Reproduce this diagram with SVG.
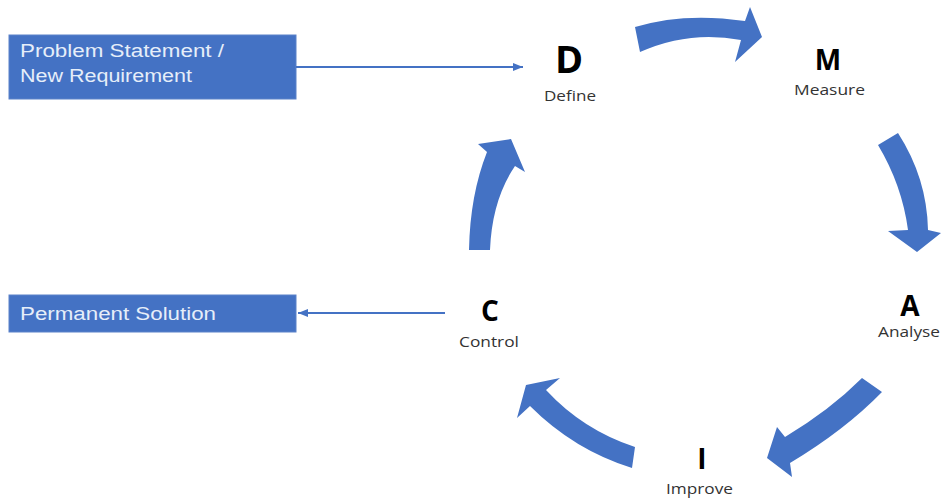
<svg xmlns="http://www.w3.org/2000/svg" width="941" height="500" viewBox="0 0 941 500">
  <style>
    .box { fill: #4472C4; stroke: #5b82c9; stroke-width: 1; }
    .boxtext { font-family: "Liberation Sans", Arial, sans-serif; font-size: 18px; fill: #e6eef9; }
    .letter { font-family: "Open Sans", "DejaVu Sans", sans-serif; font-weight: bold; fill: #000; text-anchor: middle; }
    .label { font-family: "Open Sans", "DejaVu Sans", sans-serif; font-size: 14px; fill: #333; }
    .cycle { fill: #4472C4; }
    .link { stroke: #4472C4; stroke-width: 2; fill: none; }
  </style>
  <defs>
    <marker id="head" markerUnits="userSpaceOnUse" markerWidth="11" markerHeight="9" refX="10" refY="4" orient="auto">
      <path d="M0,0 L10,4 L0,8 Z" fill="#4472C4"/>
    </marker>
  </defs>
  <rect width="941" height="500" fill="#ffffff"/>

  <!-- input / output boxes -->
  <g id="problem">
    <rect class="box" x="9" y="35" width="287" height="64"/>
    <text class="boxtext" x="20" y="57" textLength="204" lengthAdjust="spacingAndGlyphs">Problem Statement /</text>
    <text class="boxtext" x="20" y="82" textLength="172" lengthAdjust="spacingAndGlyphs">New Requirement</text>
  </g>
  <g id="solution">
    <rect class="box" x="9" y="295" width="287" height="37"/>
    <text class="boxtext" x="20" y="320" textLength="196" lengthAdjust="spacingAndGlyphs">Permanent Solution</text>
  </g>

  <!-- DMAIC phases -->
  <g id="define">
    <text class="letter" x="569" y="73" font-size="38">D</text>
    <text class="label" x="544" y="101" textLength="52" lengthAdjust="spacingAndGlyphs">Define</text>
  </g>
  <g id="measure">
    <text class="letter" x="828" y="70" font-size="28">M</text>
    <text class="label" x="794" y="95" textLength="71" lengthAdjust="spacingAndGlyphs">Measure</text>
  </g>
  <g id="analyse">
    <text class="letter" x="910" y="316" font-size="28">A</text>
    <text class="label" x="878" y="337" textLength="62" lengthAdjust="spacingAndGlyphs">Analyse</text>
  </g>
  <g id="improve">
    <text class="letter" x="702" y="469" font-size="28">I</text>
    <text class="label" x="666" y="494" textLength="67" lengthAdjust="spacingAndGlyphs">Improve</text>
  </g>
  <g id="control">
    <text class="letter" x="490" y="321" font-size="28">C</text>
    <text class="label" x="459" y="347" textLength="60" lengthAdjust="spacingAndGlyphs">Control</text>
  </g>

  <!-- connectors: cycle arrows and in/out links -->
  <g id="connectors">
    <!-- D to M -->
    <path class="cycle" d="M635,27 Q684,12 745,21 L750,7 L762,37 L735,62 L741,40 Q689,30 640,52 Z"/>
    <!-- M to A -->
    <path class="cycle" d="M878,145 Q902,185 908,230 L888,231 L917,252 L941,233 L928,230 Q927,178 898,133 Z"/>
    <!-- A to I -->
    <path class="cycle" d="M862,378 Q830,410 785,437 L777,427 L767,458 L792,477 L790,463 Q845,430 882,392 Z"/>
    <!-- I to C -->
    <path class="cycle" d="M635,447 Q583,430 546,390 L560,378 L526,385 L517,418 L530,406 Q574,450 632,468 Z"/>
    <!-- C to D -->
    <path class="cycle" d="M469,250 Q470,195 487,152 L478,144 L511,139 L525,172 L515,166 Q492,200 490,250 Z"/>

    <line class="link" x1="296" y1="67" x2="523" y2="67" marker-end="url(#head)"/>
    <line class="link" x1="445" y1="313" x2="298" y2="313" marker-end="url(#head)"/>
  </g>
</svg>
